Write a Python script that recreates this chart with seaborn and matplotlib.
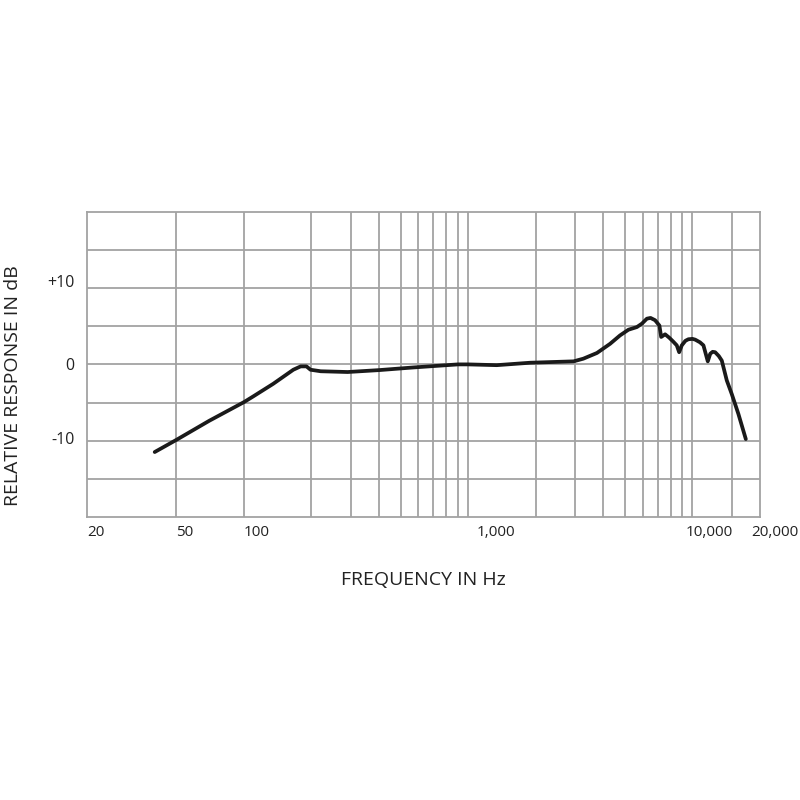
import matplotlib
matplotlib.use("Agg")
import matplotlib.pyplot as plt
import matplotlib.transforms as mtransforms
import seaborn as sns

# response curve
freq_hz = [40, 50, 70, 100, 110, 135, 166, 179, 190, 198, 220, 290, 400, 570,
           900, 1000, 1340, 1890, 2950, 3260, 3750, 4290, 4750, 5180, 5650,
           5950, 6260, 6500, 6810, 7120, 7250, 7550, 7880, 8200, 8510, 8720,
           8960, 9300, 9590, 10000, 10280, 10800, 11190, 11700, 12000, 12300,
           12620, 13100, 13510, 14220, 14970, 16020, 17290]
response_db = [-11.5, -9.9, -7.4, -4.95, -4.2, -2.55, -0.7, -0.26, -0.26, -0.7,
               -0.9, -1.0, -0.75, -0.4, 0.0, 0.0, -0.1, 0.22, 0.4, 0.75, 1.5,
               2.7, 3.8, 4.55, 4.9, 5.35, 6.0, 6.1, 5.8, 5.1, 3.6, 3.95, 3.5,
               3.0, 2.5, 1.6, 2.5, 3.1, 3.3, 3.35, 3.25, 2.9, 2.5, 0.4, 1.4,
               1.65, 1.6, 1.1, 0.5, -2.1, -3.9, -6.5, -9.8]

# axis labels and grid
x_tick_freqs = [20, 50, 100, 1000, 10000, 20000]
x_tick_labels = ["20", "50", "100", "1,000", "10,000", "20,000"]
x_label_shift = [0, 0, 0, 8, -7, -9]   # pixels
grid_freqs = [50, 100, 200, 300, 400, 500, 600, 700, 800, 900, 1000,
              2000, 3000, 4000, 5000, 6000, 7000, 8000, 9000, 10000, 15000]
y_tick_vals = [10, 0, -10]
y_tick_labels = ["+10", "0", "-10"]
y_label_shift = [7, 0, 3]   # pixels
grid_db = [-15, -10, -5, 0, 5, 10, 15]

sns.set_style("white")
plt.rcParams['font.family'] = ['Open Sans', 'DejaVu Sans']

fig = plt.figure(figsize=(8, 8), dpi=100)
ax = fig.add_axes([0.109, 0.354, 0.841, 0.381])

grid_col = "#a3a3a3"
for f in grid_freqs:
    ax.axvline(f, color=grid_col, linewidth=1.3, zorder=0)
for d in grid_db:
    ax.axhline(d, color=grid_col, linewidth=1.3, zorder=0)

sns.lineplot(x=freq_hz, y=response_db, sort=False, estimator=None,
             color="#1a1a1a", linewidth=2.7, ax=ax, zorder=3)

ax.set_xscale("log")
ax.set_xlim(20, 20000)
ax.set_ylim(-20, 20)
ax.grid(False)
for s in ax.spines.values():
    s.set_color(grid_col)
    s.set_linewidth(1.3)

ax.set_xticks(x_tick_freqs)
ax.set_xticks([], minor=True)
ax.set_xticklabels(x_tick_labels, ha="left", fontsize=11, color="#222222")
ax.set_yticks(y_tick_vals)
ax.set_yticklabels(y_tick_labels, fontsize=11.5, color="#222222")
ax.tick_params(axis="both", which="both", length=0)
ax.tick_params(axis="x", pad=6)
ax.tick_params(axis="y", pad=9)

# nudge tick labels after tick_params (it resets transforms)
for lab, dx in zip(ax.get_xticklabels(), x_label_shift):
    lab.set_transform(lab.get_transform() +
                      mtransforms.ScaledTranslation(dx / 100, 0, fig.dpi_scale_trans))
for lab, dy in zip(ax.get_yticklabels(), y_label_shift):
    lab.set_transform(lab.get_transform() +
                      mtransforms.ScaledTranslation(0, dy / 100, fig.dpi_scale_trans))

ax.set_xlabel("FREQUENCY IN Hz", fontsize=14, color="#222222", labelpad=22)
ax.set_ylabel("RELATIVE RESPONSE IN dB", fontsize=14, color="#222222")
ax.yaxis.set_label_coords(-0.097, 0.43)

fig.savefig("out.png", dpi=100)
